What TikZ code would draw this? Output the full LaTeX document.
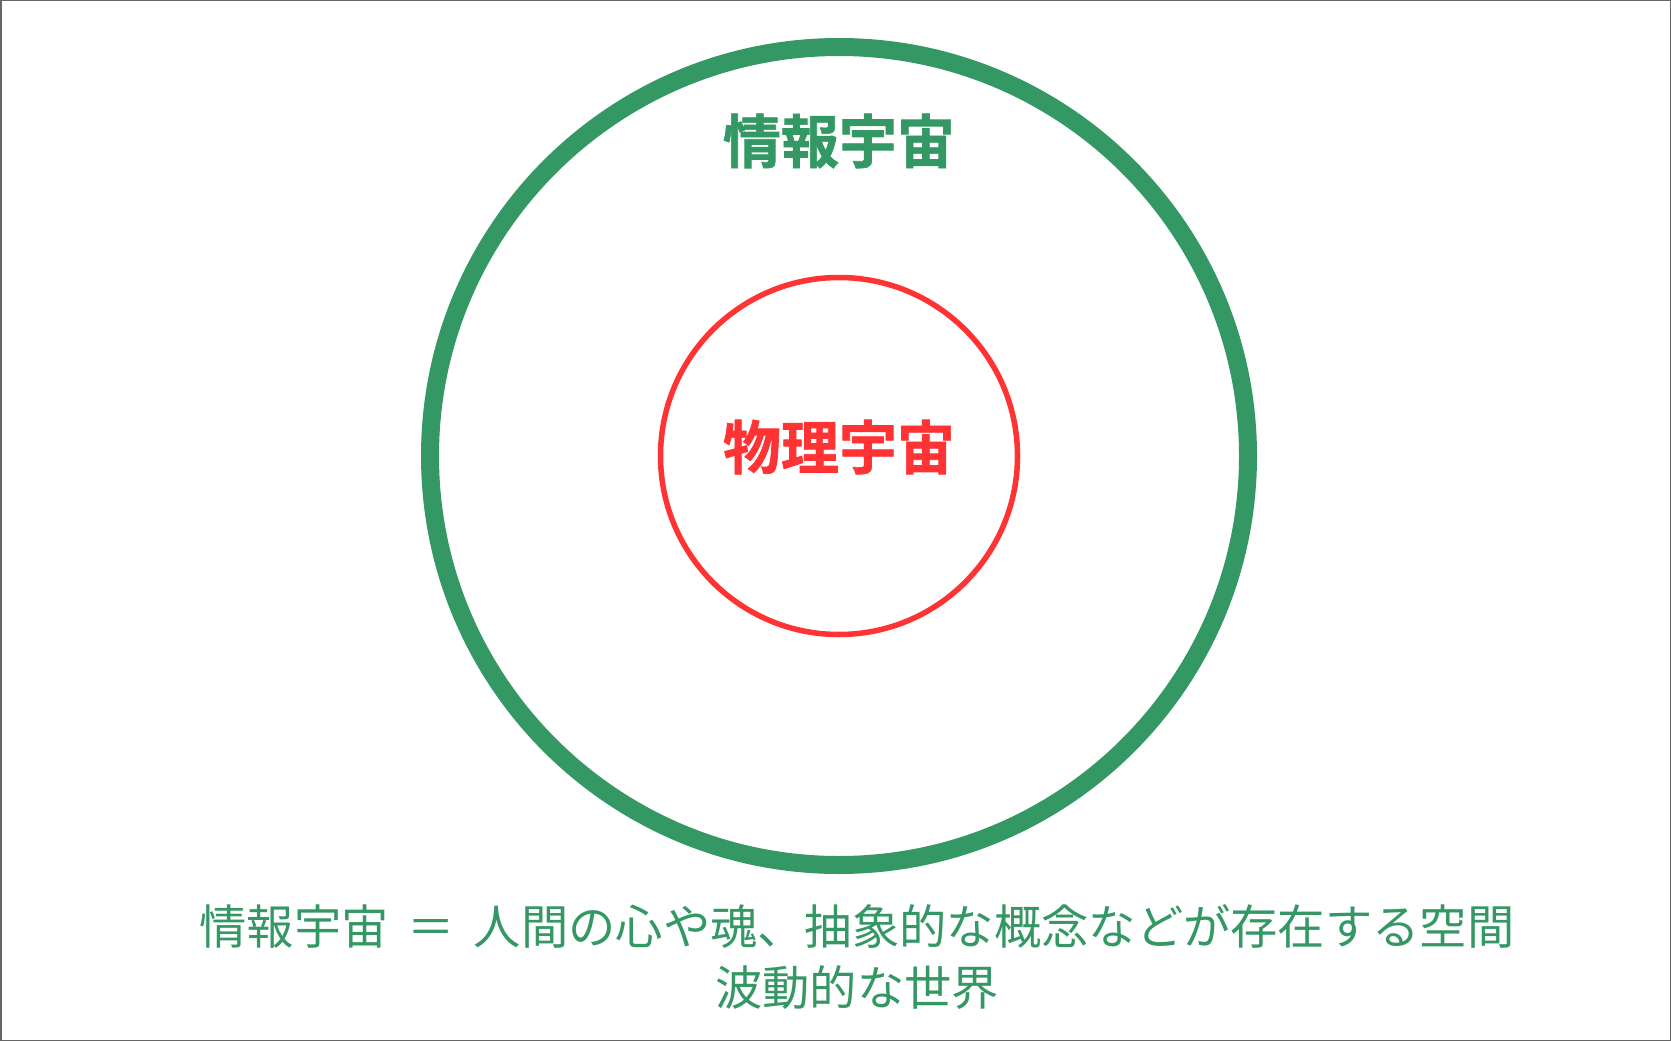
\documentclass[tikz,border=0pt]{standalone}
\usepackage{fontspec}
\setmainfont{Noto Sans CJK JP}
\newfontfamily\heavyjp{Noto Sans CJK JP}[UprightFont={* Bold},FakeBold=1.2]
\definecolor{infogreen}{RGB}{52,152,100}
\definecolor{physred}{RGB}{255,51,51}
\begin{document}
\begin{tikzpicture}[x=1pt,y=-1pt]
        \def\cx{839}
        \def\cy{456}
        \def\ro{409}
        \def\ri{178.5}
        \useasboundingbox (0,0) rectangle (1671,1041);
        \draw[black!60, line width=1.5pt] (0.75,0.75) rectangle (1670.25,1040.25);
        \node[circle, draw=infogreen, line width=18pt, minimum size=2*\ro pt, inner sep=0pt] (info) at (\cx,\cy) {};
        \node[circle, draw=physred, line width=5.5pt, minimum size=2*\ri pt, inner sep=0pt] (phys) at (\cx,\cy) {};
        \node[text=infogreen, font=\heavyjp\fontsize{58}{62}\selectfont] (infolabel) at (\cx,141) {情報宇宙};
        \node[text=physred, font=\heavyjp\fontsize{58}{62}\selectfont] (physlabel) at (\cx,447) {物理宇宙};
        \node[text=infogreen, font=\fontsize{47.3}{60.5}\selectfont, align=center] (note) at (857,957) {情報宇宙\hspace{0.4em}＝\hspace{0.4em}人間の心や魂、抽象的な概念などが存在する空間\\波動的な世界};
\end{tikzpicture}
\end{document}
